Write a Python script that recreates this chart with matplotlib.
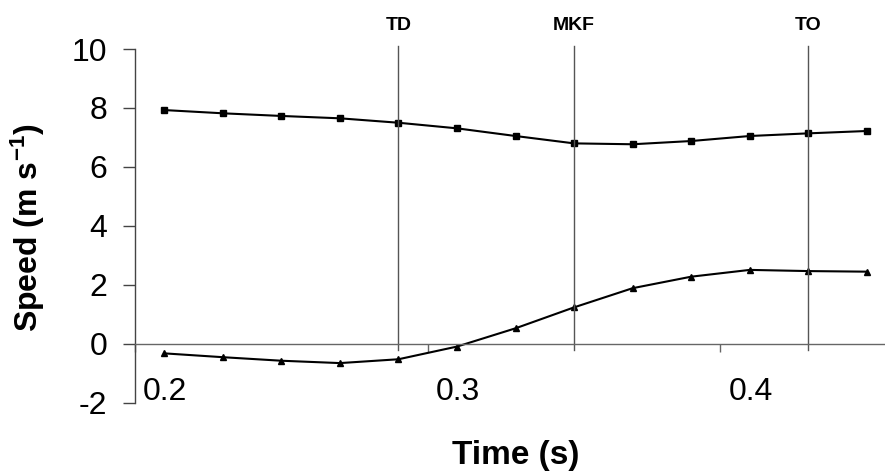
import matplotlib
matplotlib.use('Agg')
import matplotlib.pyplot as plt
import matplotlib.transforms as mtransforms

plt.rcParams['font.family'] = ['Liberation Sans', 'DejaVu Sans']
plt.rcParams['mathtext.default'] = 'regular'
plt.rcParams['axes.unicode_minus'] = False

time = [0.21, 0.23, 0.25, 0.27, 0.29, 0.31, 0.33, 0.35, 0.37, 0.39, 0.41, 0.43, 0.45]
speed_top = [7.93, 7.82, 7.73, 7.65, 7.50, 7.31, 7.05, 6.80, 6.77, 6.88, 7.05, 7.14, 7.22]
speed_bottom = [-0.32, -0.45, -0.57, -0.65, -0.52, -0.09, 0.53, 1.24, 1.89, 2.28, 2.51, 2.47, 2.45]

events = ['TD', 'MKF', 'TO']
event_times = [0.29, 0.35, 0.43]

x_ticks = [0.2, 0.3, 0.4]
x_tick_labels = ['0.2', '0.3', '0.4']
y_ticks = [-2, 0, 2, 4, 6, 8, 10]
y_tick_labels = ['-2', '0', '2', '4', '6', '8', '10']

fig = plt.figure(figsize=(8.85, 4.74), dpi=100)
ax = fig.add_axes([0.1525, 0.150, 0.8475, 0.7466])

ax.plot(time, speed_top, color='black', lw=1.5, marker='s', ms=5)
ax.plot(time, speed_bottom, color='black', lw=1.5, marker='^', ms=4.5)

for name, t in zip(events, event_times):
    ax.plot([t, t], [-0.2, 10.1], color='#555555', lw=1, clip_on=False)
    ax.text(t, 10.8, name, ha='center', va='center', fontsize=14, fontweight='bold')

ax.set_xlim(0.2, 0.4562)
ax.set_ylim(-2, 10)

ax.spines['top'].set_visible(False)
ax.spines['right'].set_visible(False)
ax.spines['bottom'].set_position(('data', 0))
ax.spines['bottom'].set_color('#666666')
ax.spines['bottom'].set_linewidth(1)
ax.spines['left'].set_color('#444444')
ax.spines['left'].set_linewidth(1)

ax.set_yticks(y_ticks, y_tick_labels)
ax.set_xticks(x_ticks, x_tick_labels)
ax.tick_params(axis='y', direction='out', length=9, width=1, pad=11, labelsize=23, colors='#444444', labelcolor='black')
ax.tick_params(axis='x', direction='out', length=6, width=1, pad=18, labelsize=23, colors='#666666', labelcolor='black')

offset = mtransforms.ScaledTranslation(0.30, 0, fig.dpi_scale_trans)
for lab in ax.get_xticklabels():
    lab.set_transform(lab.get_transform() + offset)

fig.text(0.032, 0.519, r'Speed (m s$^{-1}$)', rotation=90, ha='center', va='center',
         fontsize=23, fontweight='bold')
fig.text(0.583, 0.038, 'Time (s)', ha='center', va='center', fontsize=24, fontweight='bold')

fig.savefig('out.png', dpi=100)
